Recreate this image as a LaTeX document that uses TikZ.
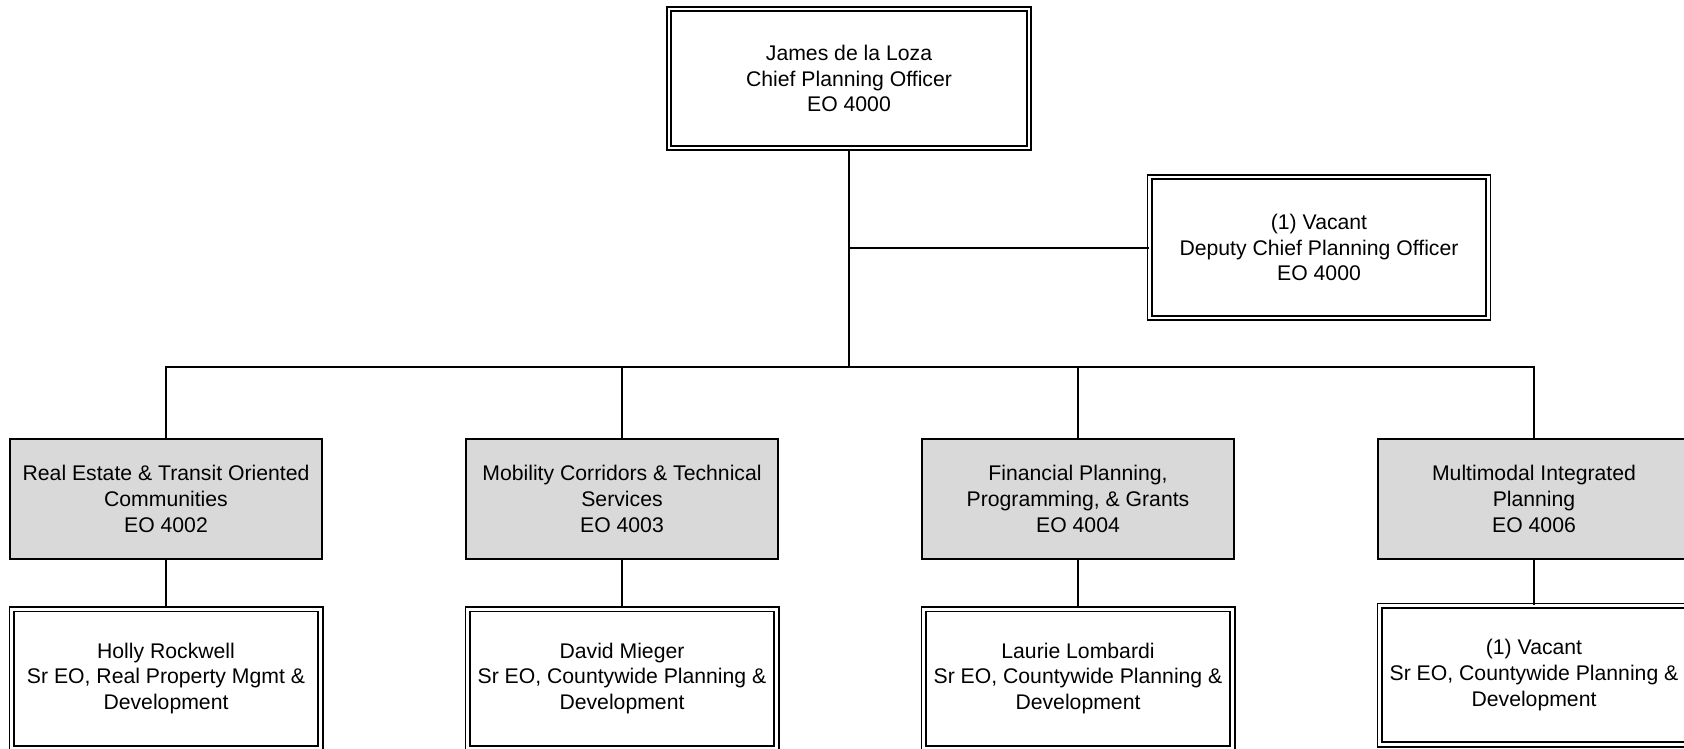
\documentclass[tikz,border=0pt]{standalone}
\usepackage{fontspec}
\setmainfont{Liberation Sans}
\definecolor{boxgray}{HTML}{D9D9D9}
\definecolor{txt}{HTML}{000000}
\begin{document}
\begin{tikzpicture}[x=1pt,y=-1pt,
  every node/.style={font=\fontsize{21.2}{25.8}\selectfont, align=center, inner sep=0pt, text=txt},
  dbox/.style={draw, double=white, double distance=2.6pt, line width=1.9pt, fill=white},
  topbox/.style={dbox, minimum width=360pt, minimum height=139pt},
  depbox/.style={dbox, minimum width=338.5pt, minimum height=141pt},
  pbox/.style={dbox, minimum width=308.6pt, minimum height=138.6pt},
  gbox/.style={draw, line width=2pt, fill=boxgray, minimum width=312pt, minimum height=120.5pt},
  conn/.style={line width=2pt}]
\clip (0,0) rectangle (1684,749);
\fill[white] (0,0) rectangle (1684,749);

\node[topbox] (top) at (849,78.5) {James de la Loza\\Chief Planning Officer\\EO 4000};
\node[depbox] (dep) at (1319,247.5) {(1) Vacant\\Deputy Chief Planning Officer\\EO 4000};

\node[gbox] (g1) at (166,499) {Real Estate \& Transit Oriented\\Communities\\EO 4002};
\node[gbox] (g2) at (622,499) {Mobility Corridors \& Technical\\Services\\EO 4003};
\node[gbox] (g3) at (1078,499) {Financial Planning,\\Programming, \& Grants\\EO 4004};
\node[gbox] (g4) at (1534,499) {Multimodal Integrated\\Planning\\EO 4006};

\node[pbox] (p1) at (166,678.5) {Holly Rockwell\\Sr EO, Real Property Mgmt \&\\Development};
\node[pbox] (p2) at (622,678.5) {David Mieger\\Sr EO, Countywide Planning \&\\Development};
\node[pbox] (p3) at (1078,678.5) {Laurie Lombardi\\Sr EO, Countywide Planning \&\\Development};
\node[pbox] (p4) at (1534,675) {(1) Vacant\\Sr EO, Countywide Planning \&\\Development};

\coordinate (j) at (849,367);

\draw[conn] (top.south) -- (j);
\draw[conn] (top.south |- dep.west) -- (dep.west);
\draw[conn] (g1.north) |- (j) -| (g4.north);
\draw[conn] (g2.north) -- (g2.north |- j);
\draw[conn] (g3.north) -- (g3.north |- j);

\draw[conn] (g1.south) -- (p1.north);
\draw[conn] (g2.south) -- (p2.north);
\draw[conn] (g3.south) -- (p3.north);
\draw[conn] (g4.south) -- (p4.north);
\end{tikzpicture}
\end{document}
